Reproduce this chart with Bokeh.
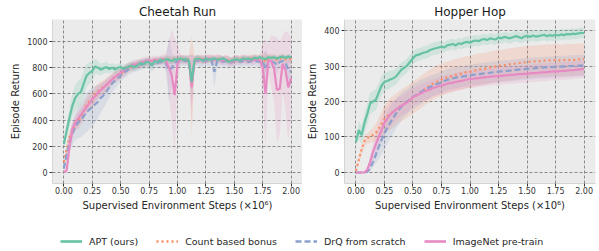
from bokeh.plotting import figure
from bokeh.layouts import column, row
from bokeh.models import (FixedTicker, NumeralTickFormatter, Legend,
                          LegendItem, Range1d, ColumnDataSource)
from bokeh.embed import file_html
from bokeh.resources import INLINE

# ---------------- data ----------------
STEPS = [0.0, 0.025, 0.05, 0.075, 0.1, 0.125, 0.15, 0.175, 0.2, 0.225,
         0.25, 0.275, 0.3, 0.325, 0.35, 0.375, 0.4, 0.425, 0.45, 0.475,
         0.5, 0.525, 0.55, 0.575, 0.6, 0.625, 0.65, 0.675, 0.7, 0.725,
         0.75, 0.775, 0.8, 0.825, 0.85, 0.875, 0.9, 0.925, 0.95, 0.975,
         1.0, 1.025, 1.05, 1.075, 1.1, 1.125, 1.15, 1.175, 1.2, 1.225,
         1.25, 1.275, 1.3, 1.325, 1.35, 1.375, 1.4, 1.425, 1.45, 1.475,
         1.5, 1.525, 1.55, 1.575, 1.6, 1.625, 1.65, 1.675, 1.7, 1.725,
         1.75, 1.775, 1.8, 1.825, 1.85, 1.875, 1.9, 1.925, 1.95, 1.975,
         2.0]

X_TICKS = [0.0, 0.25, 0.5, 0.75, 1.0, 1.25, 1.5, 1.75, 2.0]
CHEETAH_Y_TICKS = [0, 200, 400, 600, 800, 1000]
HOPPER_Y_TICKS = [0, 100, 200, 300, 400]

METHODS = ["APT (ours)", "Count based bonus", "DrQ from scratch", "ImageNet pre-train"]

# Cheetah Run
cheetah_apt = [215, 320, 420, 510, 570, 600, 615, 680, 740, 760,
               775, 810, 800, 785, 795, 805, 790, 800, 785, 800,
               805, 790, 800, 810, 815, 805, 820, 835, 825, 845,
               840, 820, 850, 845, 860, 850, 865, 860, 850, 865,
               860, 870, 860, 865, 855, 690, 860, 870, 865, 855,
               870, 860, 865, 870, 860, 865, 870, 860, 845, 855,
               860, 865, 855, 870, 865, 870, 860, 875, 870, 880,
               870, 865, 880, 875, 880, 870, 880, 885, 875, 885,
               880]
cheetah_apt_sd = [15, 50, 70, 90, 100, 100, 100, 100, 90, 80,
                  70, 60, 50, 45, 40, 40, 35, 35, 35, 30,
                  30, 30, 30, 30, 30, 30, 30, 30, 30, 30,
                  30, 30, 25, 25, 25, 25, 25, 25, 25, 25,
                  25, 25, 25, 25, 25, 60, 25, 25, 25, 25,
                  20, 20, 20, 20, 20, 20, 20, 20, 20, 20,
                  20, 20, 20, 20, 20, 20, 20, 20, 20, 20,
                  20, 20, 20, 20, 20, 20, 20, 20, 20, 20,
                  20]
cheetah_count = [80, 180, 270, 320, 365, 395, 420, 470, 520, 545,
                 560, 600, 620, 640, 655, 670, 690, 715, 730, 745,
                 755, 770, 785, 800, 810, 815, 825, 830, 835, 840,
                 845, 840, 850, 855, 850, 860, 865, 860, 855, 865,
                 860, 870, 865, 860, 865, 660, 860, 865, 870, 860,
                 865, 870, 860, 865, 870, 865, 860, 870, 855, 850,
                 860, 865, 860, 870, 865, 860, 870, 875, 865, 870,
                 875, 840, 870, 875, 870, 860, 870, 875, 865, 860,
                 870]
cheetah_count_sd = [20, 40, 50, 50, 50, 60, 60, 60, 60, 60,
                    60, 60, 55, 55, 50, 50, 50, 45, 45, 45,
                    40, 40, 40, 35, 35, 35, 35, 30, 30, 30,
                    30, 35, 30, 30, 30, 30, 30, 30, 30, 30,
                    30, 30, 30, 30, 30, 380, 30, 30, 30, 30,
                    30, 30, 30, 30, 30, 30, 30, 30, 30, 30,
                    30, 30, 30, 30, 30, 30, 30, 30, 30, 30,
                    30, 80, 30, 30, 30, 30, 30, 30, 30, 30,
                    30]
cheetah_drq = [30, 140, 230, 300, 350, 380, 400, 430, 460, 480,
               500, 520, 540, 570, 590, 620, 650, 680, 700, 720,
               740, 760, 775, 790, 800, 810, 815, 820, 830, 835,
               830, 820, 840, 835, 845, 840, 830, 780, 800, 840,
               845, 850, 855, 850, 855, 700, 850, 855, 845, 850,
               855, 850, 855, 770, 850, 855, 845, 850, 845, 840,
               850, 855, 845, 850, 855, 845, 850, 855, 850, 845,
               850, 790, 845, 850, 840, 820, 845, 850, 840, 780,
               770]
cheetah_drq_sd = [20, 50, 70, 90, 100, 120, 130, 140, 150, 150,
                  150, 140, 130, 110, 100, 90, 80, 70, 60, 55,
                  50, 45, 45, 40, 40, 40, 40, 40, 40, 40,
                  40, 50, 40, 40, 40, 40, 60, 250, 120, 40,
                  40, 40, 40, 40, 40, 200, 40, 40, 40, 40,
                  40, 40, 40, 120, 40, 40, 40, 40, 40, 40,
                  40, 40, 40, 40, 40, 40, 40, 40, 40, 40,
                  40, 150, 40, 40, 40, 60, 40, 40, 40, 120,
                  100]
cheetah_imagenet = [0, 20, 200, 330, 380, 410, 440, 470, 500, 530,
                    560, 580, 610, 630, 650, 670, 690, 710, 730, 745,
                    760, 780, 795, 810, 820, 825, 830, 835, 845, 850,
                    855, 850, 860, 855, 860, 865, 850, 800, 740, 590,
                    830, 865, 860, 865, 850, 650, 855, 865, 860, 865,
                    860, 870, 865, 860, 865, 860, 855, 860, 850, 845,
                    855, 860, 855, 865, 860, 865, 855, 860, 865, 860,
                    800, 600, 860, 850, 790, 630, 640, 830, 780, 650,
                    720]
cheetah_imagenet_sd = [5, 30, 60, 60, 60, 60, 60, 60, 55, 55,
                       50, 50, 50, 45, 45, 45, 40, 40, 40, 40,
                       35, 35, 35, 35, 35, 35, 35, 35, 35, 35,
                       35, 35, 35, 35, 35, 35, 60, 200, 350, 440,
                       150, 35, 35, 35, 35, 250, 35, 35, 35, 35,
                       35, 35, 35, 35, 35, 35, 35, 35, 35, 35,
                       35, 35, 35, 35, 35, 35, 35, 35, 35, 35,
                       200, 420, 120, 200, 250, 400, 350, 220, 300, 420,
                       300]

# Hopper Hop
hopper_apt = [85, 120, 105, 140, 165, 195, 200, 205, 225, 245,
              255, 258, 262, 265, 270, 280, 290, 295, 302, 312,
              322, 330, 332, 335, 338, 340, 345, 348, 350, 352,
              355, 352, 358, 360, 362, 358, 364, 362, 366, 368,
              366, 370, 372, 370, 374, 376, 373, 378, 376, 375,
              380, 378, 382, 380, 378, 381, 384, 382, 378, 383,
              385, 382, 386, 383, 384, 386, 388, 384, 387, 385,
              388, 386, 389, 387, 390, 389, 391, 390, 392, 393,
              393]
hopper_apt_sd = [8, 25, 25, 30, 30, 30, 30, 30, 28, 28,
                 25, 25, 25, 22, 22, 22, 20, 20, 20, 20,
                 18, 18, 18, 18, 18, 18, 18, 18, 18, 18,
                 15, 15, 15, 15, 15, 15, 15, 15, 15, 15,
                 15, 15, 15, 15, 15, 15, 15, 15, 15, 15,
                 15, 15, 15, 15, 15, 15, 15, 15, 15, 15,
                 15, 15, 15, 15, 15, 15, 15, 15, 15, 15,
                 15, 15, 15, 15, 15, 15, 15, 15, 15, 15,
                 15]
hopper_count = [5, 35, 65, 88, 97, 101, 106, 112, 124, 137,
                150, 158, 165, 171, 177, 184, 189, 194, 199, 205,
                211, 217, 222, 228, 234, 240, 245, 250, 254, 258,
                262, 265, 268, 270, 272, 275, 277, 279, 281, 283,
                284, 286, 288, 290, 291, 292, 294, 296, 297, 299,
                300, 301, 302, 303, 305, 306, 307, 308, 309, 310,
                311, 312, 313, 313, 314, 314, 315, 315, 316, 316,
                317, 316, 315, 317, 318, 317, 316, 318, 319, 318,
                320]
hopper_count_sd = [3, 10, 15, 15, 15, 18, 20, 25, 30, 35,
                   40, 42, 45, 45, 45, 45, 45, 45, 45, 45,
                   45, 45, 45, 45, 45, 45, 45, 45, 45, 45,
                   45, 45, 45, 45, 45, 45, 45, 45, 45, 45,
                   45, 45, 45, 45, 45, 45, 45, 45, 45, 45,
                   45, 45, 45, 45, 45, 45, 45, 45, 45, 45,
                   45, 45, 45, 45, 45, 45, 45, 45, 45, 45,
                   45, 45, 45, 45, 45, 45, 45, 45, 45, 45,
                   45]
hopper_drq = [0, 0, 0, 0, 3, 12, 30, 50, 72, 92,
              110, 126, 140, 153, 165, 176, 186, 194, 200, 207,
              213, 218, 223, 228, 233, 237, 241, 245, 248, 251,
              254, 258, 261, 263, 265, 267, 268, 270, 271, 272,
              274, 275, 276, 277, 278, 279, 280, 281, 282, 283,
              284, 285, 286, 286, 287, 288, 289, 290, 291, 291,
              292, 293, 293, 294, 295, 295, 296, 296, 297, 297,
              298, 298, 298, 299, 299, 300, 300, 301, 301, 301,
              302]
hopper_drq_sd = [0, 0, 0, 2, 5, 10, 15, 25, 35, 40,
                 45, 45, 45, 45, 42, 40, 38, 36, 35, 35,
                 35, 35, 35, 35, 32, 32, 32, 30, 30, 30,
                 30, 30, 30, 30, 30, 30, 30, 30, 30, 30,
                 30, 30, 30, 30, 30, 30, 30, 30, 30, 30,
                 30, 30, 30, 30, 30, 30, 30, 30, 30, 30,
                 30, 30, 30, 30, 30, 30, 30, 30, 30, 30,
                 30, 30, 30, 30, 30, 30, 30, 30, 30, 30,
                 30]
hopper_imagenet = [0, 0, 0, 0, 8, 30, 58, 80, 100, 120,
                   140, 152, 163, 170, 177, 183, 188, 193, 198, 205,
                   212, 216, 220, 224, 228, 231, 234, 238, 240, 243,
                   245, 247, 250, 252, 253, 255, 257, 258, 260, 262,
                   263, 264, 265, 266, 267, 268, 269, 270, 271, 271,
                   272, 272, 273, 274, 275, 275, 276, 277, 277, 278,
                   278, 279, 280, 280, 281, 282, 282, 283, 284, 284,
                   285, 285, 286, 286, 287, 288, 288, 289, 290, 291,
                   292]
hopper_imagenet_sd = [0, 0, 0, 2, 6, 15, 25, 30, 35, 35,
                      35, 35, 35, 32, 30, 30, 28, 28, 28, 28,
                      25, 25, 25, 25, 25, 25, 25, 25, 25, 25,
                      25, 25, 25, 25, 25, 25, 25, 25, 25, 25,
                      25, 25, 25, 25, 25, 25, 25, 25, 25, 25,
                      25, 25, 25, 25, 25, 25, 25, 25, 25, 25,
                      25, 25, 25, 25, 25, 25, 25, 25, 25, 25,
                      25, 25, 25, 25, 25, 25, 25, 25, 25, 25,
                      25]

# ---------------- style ----------------
FONT = "DejaVu Sans"
COLORS = ["#66c2a5", "#fc8d62", "#8da0cb", "#e78ac3"]
DASHES = ["solid", "2 3", "6 3", "solid"]
LW = 2.2
DRAW_ORDER = [1, 2, 3, 0]
PANEL_H = 213
TOP = 19
BOTTOM = 30


def panel(title, width, left, right, y_range, y_ticks, means, sds):
    p = figure(width=width, height=PANEL_H, title=title,
               x_range=Range1d(-0.1, 2.1), y_range=Range1d(*y_range),
               output_backend="svg", toolbar_location=None,
               min_border_left=left, min_border_right=right,
               min_border_top=TOP, min_border_bottom=BOTTOM)
    p.background_fill_color = "#ebebeb"
    p.border_fill_color = "white"
    p.outline_line_color = None

    p.title.align = "center"
    p.title.text_font = FONT
    p.title.text_font_size = "12px"
    p.title.text_font_style = "normal"
    p.title.text_color = "#1a1a1a"
    p.title.standoff = 2
    p.title.offset = 0

    for ax in (p.xaxis[0], p.yaxis[0]):
        ax.axis_line_color = "#d4d4d4"
        ax.axis_line_width = 1
        ax.major_tick_line_color = "#333333"
        ax.major_tick_in = 0
        ax.major_tick_out = 3
        ax.minor_tick_line_color = None
        ax.major_label_text_font = FONT
        ax.major_label_text_font_size = "8px"
        ax.major_label_text_color = "#333333"
        ax.axis_label_text_font = FONT
        ax.axis_label_text_font_size = "10px"
        ax.axis_label_text_font_style = "normal"
        ax.axis_label_text_color = "#262626"
        ax.major_label_standoff = 2
        ax.axis_label_standoff = 3

    p.xaxis.ticker = FixedTicker(ticks=X_TICKS)
    p.xaxis.formatter = NumeralTickFormatter(format="0.00")
    p.yaxis.ticker = FixedTicker(ticks=y_ticks)
    p.xaxis.axis_label = "Supervised Environment Steps (\u00d710\u2076)"
    p.yaxis.axis_label = "Episode Return"
    p.xaxis.major_label_standoff = 0
    p.xaxis.axis_label_standoff = 3

    p.grid.grid_line_color = "#7f7f7f"
    p.grid.grid_line_width = 0.9
    p.grid.grid_line_dash = "3 2"

    # bands
    for k in DRAW_ORDER:
        lo = [m - s for m, s in zip(means[k], sds[k])]
        hi = [m + s for m, s in zip(means[k], sds[k])]
        src = ColumnDataSource(dict(x=STEPS, lo=lo, hi=hi))
        p.varea(x="x", y1="lo", y2="hi", source=src,
                fill_color=COLORS[k], fill_alpha=0.2)
    # mean lines
    for k in DRAW_ORDER:
        src = ColumnDataSource(dict(x=STEPS, y=means[k]))
        p.line(x="x", y="y", source=src, line_color=COLORS[k],
               line_width=LW, line_dash=DASHES[k])
    return p


p1 = panel("Cheetah Run", 302, 52, 0, (-84, 1168), CHEETAH_Y_TICKS,
           [cheetah_apt, cheetah_count, cheetah_drq, cheetah_imagenet],
           [cheetah_apt_sd, cheetah_count_sd, cheetah_drq_sd, cheetah_imagenet_sd])
p2 = panel("Hopper Hop", 297, 42, 4, (-31, 431), HOPPER_Y_TICKS,
           [hopper_apt, hopper_count, hopper_drq, hopper_imagenet],
           [hopper_apt_sd, hopper_count_sd, hopper_drq_sd, hopper_imagenet_sd])

# legend strip (its lines use the real series, kept outside the visible range)
leg = figure(width=599, height=38, output_backend="svg", toolbar_location=None,
             x_axis_type=None, y_axis_type=None, min_border=0,
             x_range=Range1d(10, 11), y_range=Range1d(10, 11))
leg.outline_line_color = None
leg.grid.visible = False
leg_series = [cheetah_apt, cheetah_count, cheetah_drq, cheetah_imagenet]
items = []
for k, name in enumerate(METHODS):
    r = leg.line(x=STEPS, y=leg_series[k], line_color=COLORS[k], line_width=2.6,
                 line_dash=DASHES[k])
    items.append(LegendItem(label=name, renderers=[r]))
legend = Legend(items=items, orientation="horizontal", location=(60, 4),
                glyph_width=22, glyph_height=12, label_height=12,
                label_standoff=7, spacing=18, padding=0, margin=0,
                border_line_color=None, background_fill_alpha=0,
                label_text_font=FONT, label_text_font_size="9.5px",
                label_text_color="#262626")
leg.add_layout(legend)

layout = column(row(p1, p2), leg)
open("out.html", "w").write(file_html(layout, INLINE))
